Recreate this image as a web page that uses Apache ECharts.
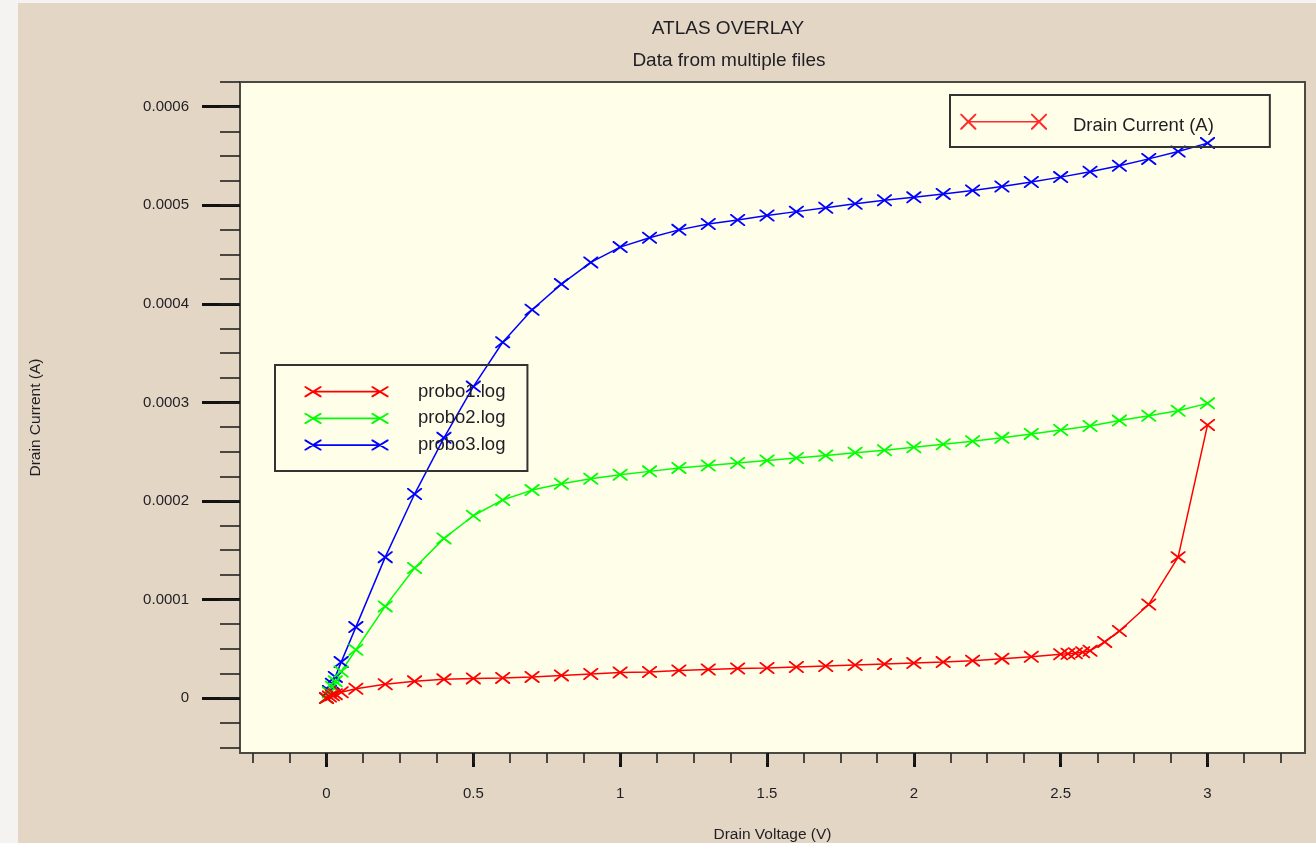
<!DOCTYPE html>
<html><head><meta charset="utf-8">
<script src="https://cdn.jsdelivr.net/npm/echarts@6/dist/echarts.min.js"></script>
<style>
html,body{margin:0;padding:0;background:#f4f3f1;}
#chart{position:absolute;left:0;top:0;width:1316px;height:843px;background:#e4d6c4;box-shadow:inset 18px 3px 0 #f4f3f1;}
</style></head><body><div id="chart"></div>
<script>
// ---- data (drain voltage in V, drain current in A) ----
const voltsProbo23 = [0, 0.01, 0.02, 0.03, 0.05, 0.1, 0.2, 0.3, 0.4, 0.5, 0.6, 0.7, 0.8, 0.9, 1.0,
  1.1, 1.2, 1.3, 1.4, 1.5, 1.6, 1.7, 1.8, 1.9, 2.0, 2.1, 2.2, 2.3, 2.4, 2.5, 2.6, 2.7, 2.8, 2.9, 3.0];
const currentProbo3 = [0, 7.3e-6, 1.45e-5, 2.15e-5, 3.65e-5, 7.2e-5, 1.43e-4, 2.07e-4, 2.64e-4, 3.16e-4,
  3.61e-4, 3.94e-4, 4.2e-4, 4.42e-4, 4.575e-4, 4.67e-4, 4.75e-4, 4.81e-4, 4.85e-4, 4.895e-4,
  4.935e-4, 4.975e-4, 5.015e-4, 5.05e-4, 5.08e-4, 5.115e-4, 5.15e-4, 5.19e-4, 5.235e-4, 5.285e-4,
  5.34e-4, 5.4e-4, 5.47e-4, 5.545e-4, 5.63e-4];
const currentProbo2 = [0, 5.8e-6, 1.15e-5, 1.7e-5, 2.7e-5, 4.9e-5, 9.3e-5, 1.32e-4, 1.62e-4, 1.85e-4,
  2.01e-4, 2.11e-4, 2.175e-4, 2.225e-4, 2.265e-4, 2.3e-4, 2.335e-4, 2.36e-4, 2.385e-4, 2.41e-4,
  2.435e-4, 2.46e-4, 2.49e-4, 2.515e-4, 2.545e-4, 2.575e-4, 2.605e-4, 2.64e-4, 2.68e-4, 2.72e-4,
  2.76e-4, 2.815e-4, 2.865e-4, 2.915e-4, 2.99e-4];
const voltsProbo1 = [0, 0.01, 0.02, 0.03, 0.05, 0.1, 0.2, 0.3, 0.4, 0.5, 0.6, 0.7, 0.8, 0.9, 1.0,
  1.1, 1.2, 1.3, 1.4, 1.5, 1.6, 1.7, 1.8, 1.9, 2.0, 2.1, 2.2, 2.3, 2.4, 2.5,
  2.525, 2.55, 2.575, 2.6, 2.65, 2.7, 2.8, 2.9, 3.0];
const currentProbo1 = [0, 1.5e-6, 2.8e-6, 4e-6, 6e-6, 9.5e-6, 1.4e-5, 1.7e-5, 1.9e-5, 2.0e-5,
  2.05e-5, 2.15e-5, 2.3e-5, 2.45e-5, 2.6e-5, 2.65e-5, 2.8e-5, 2.9e-5, 3.0e-5, 3.05e-5,
  3.15e-5, 3.25e-5, 3.35e-5, 3.45e-5, 3.55e-5, 3.65e-5, 3.8e-5, 4.0e-5, 4.2e-5, 4.45e-5,
  4.5e-5, 4.55e-5, 4.65e-5, 4.8e-5, 5.7e-5, 6.8e-5, 9.5e-5, 1.43e-4, 2.77e-4];

const seriesNames = ['probo1.log', 'probo2.log', 'probo3.log'];
const overlayLegendName = 'Drain Current (A)';

const xTickValues = [0, 0.5, 1, 1.5, 2, 2.5, 3];
const xTickLabels = ['0', '0.5', '1', '1.5', '2', '2.5', '3'];
const yTickValues = [0, 0.0001, 0.0002, 0.0003, 0.0004, 0.0005, 0.0006];
const yTickLabels = ['0', '0.0001', '0.0002', '0.0003', '0.0004', '0.0005', '0.0006'];
const xMinorStep = 0.125;
const yMinorStep = 0.000025;
const xRange = [-0.2945, 3.332];
const yRange = [-0.0000557, 0.000625];

// ---- helpers ----
function minorTicks(range, step) {
  const out = [];
  const k0 = Math.ceil(range[0] / step - 1e-6), k1 = Math.floor(range[1] / step + 1e-6);
  for (let k = k0; k <= k1; k++) out.push(+(k * step).toPrecision(10));
  return out;
}
function labelFor(values, labels) {
  return v => { const i = values.findIndex(t => Math.abs(t - v) < 1e-12 + Math.abs(t) * 1e-6); return i >= 0 ? labels[i] : ''; };
}
function f(n) { return (+n.toFixed(3)).toString(); }
function poly(pts) { return 'M' + pts.map(p => f(p[0]) + ',' + f(p[1])).join(' L') + ' Z '; }
function xShape(cx, cy, w, h, t) {
  const x0 = cx - w / 2, y0 = cy - h / 2, x1 = cx + w / 2, y1 = cy + h / 2;
  return poly([[x0, y0], [x0 + t, y0], [x1, y1 - t], [x1, y1], [x1 - t, y1], [x0, y0 + t]]) +
         poly([[x1, y0], [x1, y0 + t], [x0 + t, y1], [x0, y1], [x0, y1 - t], [x1 - t, y0]]);
}
function rectShape(x0, y0, x1, y1) { return poly([[x0, y0], [x1, y0], [x1, y1], [x0, y1]]); }
function tiny(x, y) { return poly([[x - 0.04, y - 0.04], [x, y - 0.04], [x, y]]); }

const markerPath = 'path://' + xShape(7.5, 6, 15, 12, 1.3) + rectShape(6.4, 4.9, 8.6, 7.1);
// legend icon for series (box 108.5 x 11)
const L2W = 108.5, L2H = 11;
const legend2Icon = 'path://' + xShape(8.5, 5.5, 17, 11, 1.4) + xShape(75.5, 5.5, 17, 11, 1.4) +
  rectShape(8.5, 4.6, 75.5, 6.4) + rectShape(7.2, 4.2, 9.8, 6.8) + rectShape(74.2, 4.2, 76.8, 6.8) + tiny(L2W, L2H);
// overlay legend icon (box 107.7 x 24.6)
const L1W = 107.7, L1H = 24.6;
const legend1Icon = 'path://' + xShape(8, 8, 16, 16, 1.4) + xShape(78.7, 8, 16, 16, 1.4) +
  rectShape(8, 7.25, 78.7, 8.75) + tiny(L1W, L1H);

function pairs(xs, ys) { return xs.map((x, i) => [x, ys[i]]); }

const FONT = 'Liberation Sans, Arial, sans-serif';
const TXT = '#1e1e24';
const colors = { 'probo1.log': '#ff0000', 'probo2.log': '#00ff00', 'probo3.log': '#0000ff' };

function lineSeries(name, data) {
  return {
    name, type: 'line', data, xAxisIndex: 0, yAxisIndex: 0,
    symbol: markerPath, symbolSize: [15, 12], showAllSymbol: true,
    lineStyle: { color: colors[name], width: 1.5 },
    itemStyle: { color: colors[name], borderWidth: 0 },
    emphasis: { disabled: true }, clip: true
  };
}

const chart = echarts.init(document.getElementById('chart'), null, { renderer: 'canvas' });
chart.setOption({
  animation: false,
  backgroundColor: 'transparent',
  textStyle: { fontFamily: FONT },
  title: [
    { text: 'ATLAS OVERLAY', left: 728, top: 19, textAlign: 'center', padding: 0,
      textStyle: { fontSize: 19, fontWeight: 'normal', color: TXT, fontFamily: FONT } },
    { text: 'Data from multiple files', left: 729, top: 51, textAlign: 'center', padding: 0,
      textStyle: { fontSize: 19, fontWeight: 'normal', color: TXT, fontFamily: FONT } }
  ],
  grid: { left: 240, top: 82, right: 11, bottom: 90, show: true, backgroundColor: '#fffee9',
    borderColor: '#4a4a42', borderWidth: 2, containLabel: false, outerBoundsMode: 'none' },
  legend: [
    { data: [{ name: overlayLegendName, icon: legend1Icon }],
      left: 950, top: 95, orient: 'horizontal', selectedMode: false,
      itemWidth: L1W, itemHeight: L1H, itemGap: 0,
      padding: [18.7, 56, 8.7, 10.3], borderColor: '#333', borderWidth: 2, backgroundColor: 'transparent',
      itemStyle: { borderWidth: 0 },
      textStyle: { fontSize: 18.5, color: TXT, fontFamily: FONT } },
    { data: seriesNames.map(n => ({ name: n, icon: legend2Icon })),
      left: 275, top: 365, orient: 'vertical', selectedMode: false,
      itemWidth: L2W, itemHeight: L2H, itemGap: 6.7,
      padding: [16.7, 22, 16, 29.5], borderColor: '#333', borderWidth: 2, backgroundColor: 'transparent',
      itemStyle: { borderWidth: 0 },
      textStyle: { fontSize: 18.5, lineHeight: 20, color: TXT, fontFamily: FONT } }
  ],
  xAxis: [
    { type: 'value', min: xRange[0], max: xRange[1], position: 'bottom',
      axisLine: { show: false, onZero: false }, splitLine: { show: false },
      axisTick: { show: true, customValues: xTickValues, length: 14, lineStyle: { color: '#111', width: 3 } },
      axisLabel: { customValues: xTickValues, formatter: labelFor(xTickValues, xTickLabels), margin: 33,
        fontSize: 15, color: TXT, fontFamily: FONT },
      name: 'Drain Voltage (V)', nameLocation: 'middle', nameGap: 74,
      nameTextStyle: { fontSize: 15.5, color: TXT, fontFamily: FONT } },
    { type: 'value', min: xRange[0], max: xRange[1], position: 'bottom', gridIndex: 0,
      axisLine: { show: false, onZero: false }, splitLine: { show: false },
      axisTick: { show: true, customValues: minorTicks(xRange, xMinorStep), length: 10, lineStyle: { color: '#222', width: 1.6 } },
      axisLabel: { show: false } }
  ],
  yAxis: [
    { type: 'value', min: yRange[0], max: yRange[1], position: 'left',
      axisLine: { show: false, onZero: false }, splitLine: { show: false },
      axisTick: { show: true, customValues: yTickValues, length: 38, lineStyle: { color: '#111', width: 3 } },
      axisLabel: { customValues: yTickValues, formatter: labelFor(yTickValues, yTickLabels), margin: 51,
        fontSize: 15, color: TXT, fontFamily: FONT },
      name: 'Drain Current (A)', nameLocation: 'middle', nameGap: 196,
      nameTextStyle: { fontSize: 15.5, color: TXT, fontFamily: FONT } },
    { type: 'value', min: yRange[0], max: yRange[1], position: 'left', gridIndex: 0,
      axisLine: { show: false, onZero: false }, splitLine: { show: false },
      axisTick: { show: true, customValues: minorTicks(yRange, yMinorStep), length: 20, lineStyle: { color: '#222', width: 1.6 } },
      axisLabel: { show: false } }
  ],
  series: [
    lineSeries('probo3.log', pairs(voltsProbo23, currentProbo3)),
    lineSeries('probo2.log', pairs(voltsProbo23, currentProbo2)),
    lineSeries('probo1.log', pairs(voltsProbo1, currentProbo1)),
    { name: overlayLegendName, type: 'line', data: [], xAxisIndex: 0, yAxisIndex: 0,
      lineStyle: { color: '#ff2a2a' }, itemStyle: { color: '#ff2a2a', borderWidth: 0 } }
  ]
});
</script></body></html>
